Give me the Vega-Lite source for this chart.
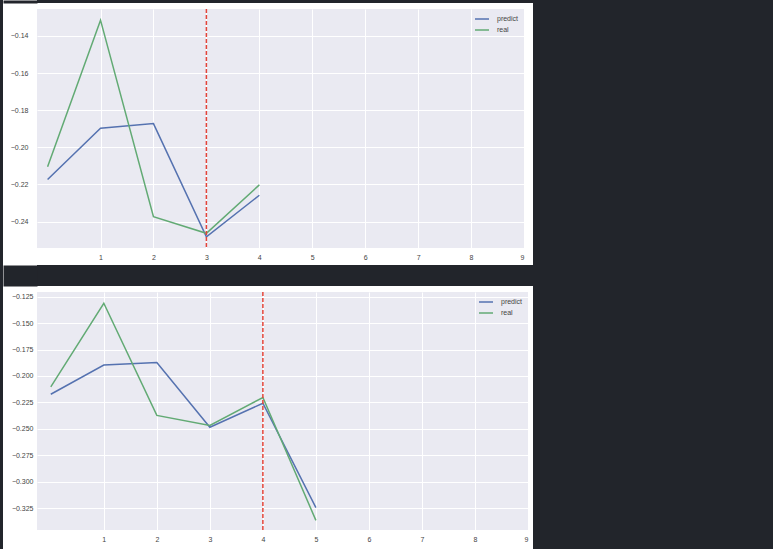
{
  "$schema": "https://vega.github.io/schema/vega-lite/v6.json",
  "background": "#ffffff",
  "padding": 0,
  "datasets": {
    "top": [
      {"x": 0, "value": -0.2173, "series": "predict"},
      {"x": 1, "value": -0.1897, "series": "predict"},
      {"x": 2, "value": -0.1872, "series": "predict"},
      {"x": 3, "value": -0.2482, "series": "predict"},
      {"x": 4, "value": -0.2258, "series": "predict"},
      {"x": 0, "value": -0.2104, "series": "real"},
      {"x": 1, "value": -0.1315, "series": "real"},
      {"x": 2, "value": -0.2373, "series": "real"},
      {"x": 3, "value": -0.2463, "series": "real"},
      {"x": 4, "value": -0.2202, "series": "real"}
    ],
    "bottom": [
      {"x": 0, "value": -0.2173, "series": "predict"},
      {"x": 1, "value": -0.1897, "series": "predict"},
      {"x": 2, "value": -0.1872, "series": "predict"},
      {"x": 3, "value": -0.2485, "series": "predict"},
      {"x": 4, "value": -0.2258, "series": "predict"},
      {"x": 5, "value": -0.3247, "series": "predict"},
      {"x": 0, "value": -0.2104, "series": "real"},
      {"x": 1, "value": -0.1312, "series": "real"},
      {"x": 2, "value": -0.2373, "series": "real"},
      {"x": 3, "value": -0.2468, "series": "real"},
      {"x": 4, "value": -0.2204, "series": "real"},
      {"x": 5, "value": -0.3367, "series": "real"}
    ],
    "cutTop": [{"x": 3}],
    "cutBottom": [{"x": 4}]
  },
  "spacing": 0,
  "hconcat": [
    {
      "width": 3,
      "height": 549,
      "data": {"values": []},
      "mark": "rect",
      "view": {"fill": "#22252b", "stroke": null}
    },
    {
      "columns": 1,
      "align": "none",
      "spacing": 5,
      "resolve": {"scale": {"color": "independent"}, "legend": {"color": "independent"}},
      "concat": [
        {
          "width": 496,
          "height": 3,
          "data": {"values": []},
          "mark": "rect",
          "encoding": {
            "y": {
              "field": "v", "type": "quantitative",
              "scale": {"domain": [0, 1]},
              "axis": {"title": null, "labels": false, "grid": false, "ticks": false, "domain": true, "domainColor": "#22252b", "domainWidth": 34, "domainCap": "butt", "offset": 17}
            }
          },
          "view": {"fill": "#22252b", "stroke": null}
        },
        {
          "width": 487,
          "height": 239,
          "layer": [
            {
              "data": {"name": "top"},
              "mark": {"type": "line", "strokeWidth": 1.5},
              "encoding": {
                "x": {
                  "field": "x", "type": "quantitative",
                  "scale": {"domain": [-0.2, 9], "nice": false, "zero": false},
                  "axis": {"values": [1, 2, 3, 4, 5, 6, 7, 8, 9], "title": null, "format": "d"}
                },
                "y": {
                  "field": "value", "type": "quantitative",
                  "scale": {"domain": [-0.2542, -0.1255], "nice": false, "zero": false},
                  "axis": {"values": [-0.24, -0.22, -0.2, -0.18, -0.16, -0.14], "title": " ", "format": ".2f", "labelPadding": 9}
                },
                "color": {
                  "field": "series", "type": "nominal",
                  "scale": {"domain": ["predict", "real"], "range": ["#5572b0", "#62aa74"]},
                  "legend": {"title": null, "orient": "none", "legendX": 437, "legendY": 2}
                }
              }
            },
            {
              "data": {"name": "cutTop"},
              "mark": {"type": "rule", "color": "#e3443a", "strokeDash": [4, 2], "strokeWidth": 1.5},
              "encoding": {"x": {"field": "x", "type": "quantitative"}}
            }
          ]
        },
        {
          "width": 496,
          "height": 21,
          "data": {"values": []},
          "mark": "rect",
          "encoding": {
            "y": {
              "field": "v", "type": "quantitative",
              "scale": {"domain": [0, 1]},
              "axis": {"title": null, "labels": false, "grid": false, "ticks": false, "domain": true, "domainColor": "#22252b", "domainWidth": 34, "domainCap": "butt", "offset": 17}
            }
          },
          "view": {"fill": "#22252b", "stroke": null}
        },
        {
          "width": 491,
          "height": 238,
          "layer": [
            {
              "data": {"name": "bottom"},
              "mark": {"type": "line", "strokeWidth": 1.5},
              "encoding": {
                "x": {
                  "field": "x", "type": "quantitative",
                  "scale": {"domain": [-0.26, 9], "nice": false, "zero": false},
                  "axis": {"values": [1, 2, 3, 4, 5, 6, 7, 8, 9], "title": null, "format": "d"}
                },
                "y": {
                  "field": "value", "type": "quantitative",
                  "scale": {"domain": [-0.3458, -0.1205], "nice": false, "zero": false},
                  "axis": {"values": [-0.325, -0.3, -0.275, -0.25, -0.225, -0.2, -0.175, -0.15, -0.125], "title": " ", "format": ".3f", "labelPadding": 4}
                },
                "color": {
                  "field": "series", "type": "nominal",
                  "scale": {"domain": ["predict", "real"], "range": ["#5572b0", "#62aa74"]},
                  "legend": {"title": null, "orient": "none", "legendX": 441, "legendY": 2}
                }
              }
            },
            {
              "data": {"name": "cutBottom"},
              "mark": {"type": "rule", "color": "#e3443a", "strokeDash": [4, 2], "strokeWidth": 1.5},
              "encoding": {"x": {"field": "x", "type": "quantitative"}}
            }
          ]
        }
      ]
    },
    {
      "width": 240,
      "height": 549,
      "data": {"values": []},
      "mark": "rect",
      "view": {"fill": "#22252b", "stroke": null}
    }
  ],
  "resolve": {"scale": {"color": "independent"}, "legend": {"color": "independent"}},
  "config": {
    "font": "Liberation Sans",
    "view": {"fill": "#eaeaf2", "stroke": null},
    "axis": {
      "domain": false,
      "ticks": false,
      "grid": true,
      "gridColor": "#ffffff",
      "gridWidth": 1,
      "labelFont": "Liberation Sans",
      "labelFontSize": 7,
      "labelColor": "#444444",
      "labelPadding": 5,
      "titleFontSize": 7,
      "titlePadding": 0
    },
    "legend": {
      "labelFont": "Liberation Sans",
      "labelFontSize": 7,
      "labelColor": "#444444",
      "symbolType": "stroke",
      "symbolSize": 196,
      "symbolStrokeWidth": 1.5,
      "rowPadding": -3,
      "labelOffset": 7,
      "padding": 0
    }
  }
}
